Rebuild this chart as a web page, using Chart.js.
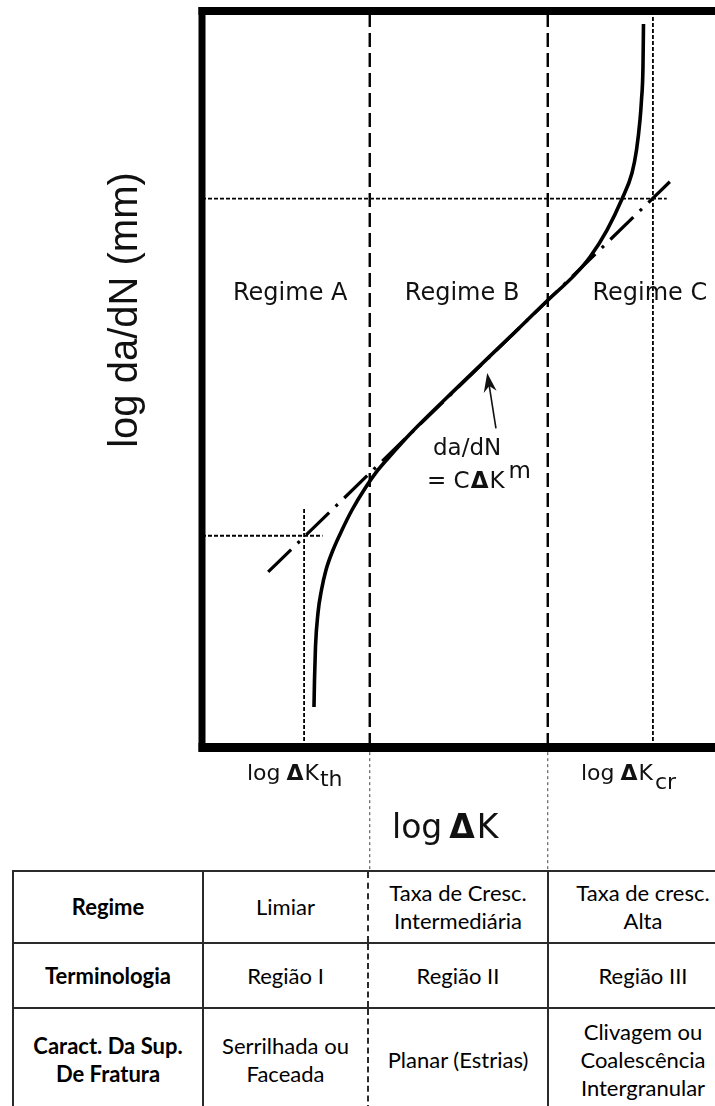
<!DOCTYPE html>
<html>
<head>
<meta charset="utf-8">
<script src="https://cdn.jsdelivr.net/npm/chart.js@4.4.1/dist/chart.umd.min.js"></script>
<style>
  html, body { margin: 0; padding: 0; background: #fff; }
  body { position: relative; width: 715px; height: 1106px; overflow: hidden; }
  #plot { position: absolute; left: 0; top: 0; z-index: 2; pointer-events: none; }
  table.regimes {
    position: absolute; left: 12px; top: 870px; z-index: 1;
    border-collapse: collapse; table-layout: fixed; width: 725px;
    font-family: Lato, "Open Sans", sans-serif; font-size: 22px; color: #000;
  }
  table.regimes td {
    border: 2px solid #2a2a2a; text-align: center; vertical-align: middle;
    line-height: 28px; padding: 0;
  }
  table.regimes td.head { font-weight: bold; font-size: 22px; }
  table.regimes td.c2 { border-right: 2px dashed #2a2a2a; }
  table.regimes td.c3 { border-left: 2px dashed #2a2a2a; }
</style>
</head>
<body>
<table class="regimes">
  <colgroup><col style="width:190px"><col style="width:165px"><col style="width:180px"><col style="width:190px"></colgroup>
  <tr style="height:72px">
    <td class="head">Regime</td><td class="c2">Limiar</td><td class="c3">Taxa de Cresc.<br>Intermediária</td><td>Taxa de cresc.<br>Alta</td>
  </tr>
  <tr style="height:65px">
    <td class="head">Terminologia</td><td class="c2">Região I</td><td class="c3">Região II</td><td>Região III</td>
  </tr>
  <tr style="height:104px">
    <td class="head">Caract. Da Sup.<br>De Fratura</td><td class="c2">Serrilhada ou<br>Faceada</td><td class="c3">Planar (Estrias)</td><td>Clivagem ou<br>Coalescência<br>Intergranular</td>
  </tr>
</table>
<canvas id="plot" width="715" height="1106"></canvas>
<script>
// Axis ranges (log ΔK horizontally, log da/dN vertically, arbitrary log units)
const kRange = [0, 10];
const rateRange = [0, 10];

// Crack growth curve: sigmoidal da/dN vs ΔK
const curveK    = [2.183, 2.193, 2.212, 2.261, 2.329, 2.417, 2.554, 2.729, 2.924, 3.158, 3.431, 3.70, 4.05, 5.00, 6.00, 6.74, 7.27, 7.563, 7.895, 8.187, 8.382, 8.47, 8.538, 8.567, 8.596, 8.606];
const curveRate = [0.543, 0.910, 1.359, 1.821, 2.133, 2.405, 2.677, 2.948, 3.220, 3.492, 3.764, 3.98, 4.25, 4.90, 5.57, 6.07, 6.418, 6.658, 7.024, 7.446, 7.799, 8.111, 8.519, 8.791, 9.239, 9.823];

// Paris law straight line (dash-dot)
const parisK    = [1.29, 9.12];
const parisRate = [2.38, 7.68];

// Regime boundaries A|B and B|C
const regimeBoundaryK = [3.27, 6.74];

// Threshold and critical ΔK guides
const thresholdK = 1.99, thresholdRate = 2.87;
const thresholdGuideTop = 3.25, thresholdGuideEnd = 2.35;
const criticalK = 8.79, criticalRate = 7.45;
const criticalGuideEnd = 9.06;

// Extension of the regime boundaries down to the table
const boundaryExtension = [-0.07, -1.68];

// Regime labels and their positions
const regimeLabels = ['Regime A', 'Regime B', 'Regime C'];
const regimeLabelK = [1.72, 5.07, 8.73];
const regimeLabelRate = 6.08;

// Pointer to the Paris-law segment
const arrowTail = [5.73, 4.33];
const arrowTip  = [5.56, 5.08];

const pts = (xs, ys) => xs.map((x, i) => ({ x, y: ys[i] }));

const datasets = [
  { data: pts(curveK, curveRate), borderColor: '#000', borderWidth: 3.6, cubicInterpolationMode: 'monotone' },
  { data: pts(parisK, parisRate), borderColor: '#000', borderWidth: 3.2, borderDash: [32, 9, 3, 9] },
];
regimeBoundaryK.forEach(k => {
  datasets.push({ data: pts([k, k], rateRange), borderColor: '#000', borderWidth: 2.4, borderDash: [14, 6] });
  datasets.push({ data: pts([k, k], boundaryExtension), borderColor: '#444', borderWidth: 1, borderDash: [3, 3], clip: false });
});
datasets.push(
  { data: pts([thresholdK, thresholdK], [rateRange[0], thresholdGuideTop]), borderColor: '#000', borderWidth: 1.8, borderDash: [4, 2] },
  { data: pts([kRange[0], thresholdGuideEnd], [thresholdRate, thresholdRate]), borderColor: '#000', borderWidth: 1.8, borderDash: [4, 2] },
  { data: pts([criticalK, criticalK], rateRange), borderColor: '#000', borderWidth: 1.8, borderDash: [4, 2] },
  { data: pts([kRange[0], criticalGuideEnd], [criticalRate, criticalRate]), borderColor: '#000', borderWidth: 1.8, borderDash: [4, 2] }
);
datasets.forEach(d => { d.showLine = true; d.pointRadius = 0; d.fill = false; });

const DJ = '"DejaVu Sans"';
function drawRuns(ctx, x, y, runs) {
  let cx = x;
  runs.forEach(r => {
    ctx.font = r.f;
    cx += (r.gap || 0);
    ctx.fillText(r.t, cx, y + (r.dy || 0));
    cx += ctx.measureText(r.t).width;
  });
}

const framePlugin = {
  id: 'frame',
  afterDatasetsDraw(chart) {
    const { ctx, chartArea: a, width } = chart;
    ctx.save();
    ctx.fillStyle = '#000';
    ctx.fillRect(a.left - 3.5, a.top - 4, 7, a.bottom - a.top + 8.5);
    ctx.fillRect(a.left - 3.5, a.top - 4, width, 8);
    ctx.fillRect(a.left - 3.5, a.bottom - 4, width, 9);
    ctx.restore();
  },
  afterDraw(chart) {
    const { ctx } = chart;
    const xs = chart.scales.x, ys = chart.scales.y;
    ctx.save();
    ctx.fillStyle = '#111';
    ctx.textBaseline = 'alphabetic';

    // regime labels
    ctx.font = '24px ' + DJ;
    ctx.textAlign = 'center';
    regimeLabels.forEach((t, i) => ctx.fillText(t, xs.getPixelForValue(regimeLabelK[i]), ys.getPixelForValue(regimeLabelRate)));

    // vertical axis title
    ctx.save();
    ctx.translate(137, 310);
    ctx.rotate(-Math.PI / 2);
    ctx.font = '40px "Liberation Sans"';
    ctx.fillText('log da/dN (mm)', 0, 0);
    ctx.restore();

    ctx.textAlign = 'left';
    // threshold and critical ΔK labels
    drawRuns(ctx, 247, 780, [
      { t: 'log', f: '22px ' + DJ },
      { t: 'Δ', f: 'bold 22px ' + DJ, gap: 6 },
      { t: 'K', f: '22px ' + DJ, gap: 1 },
      { t: 'th', f: '22px ' + DJ, gap: 1, dy: 6 }
    ]);
    drawRuns(ctx, 581, 780, [
      { t: 'log', f: '22px ' + DJ },
      { t: 'Δ', f: 'bold 22px ' + DJ, gap: 6 },
      { t: 'K', f: '22px ' + DJ, gap: 1 },
      { t: 'cr', f: '22px ' + DJ, gap: 2, dy: 9 }
    ]);
    // horizontal axis title
    drawRuns(ctx, 392, 838, [
      { t: 'log', f: '33px ' + DJ },
      { t: 'Δ', f: 'bold 33px ' + DJ, gap: 7 },
      { t: 'K', f: '33px ' + DJ, gap: 2 }
    ]);

    // Paris law annotation
    drawRuns(ctx, 433, 455, [{ t: 'da/dN', f: '23px ' + DJ }]);
    drawRuns(ctx, 427, 488, [
      { t: '= C', f: '23px ' + DJ },
      { t: 'Δ', f: 'bold 23px ' + DJ, gap: 1 },
      { t: 'K', f: '23px ' + DJ, gap: 1 },
      { t: 'm', f: '23px ' + DJ, gap: 4, dy: -10 }
    ]);

    // arrow
    const tx = xs.getPixelForValue(arrowTail[0]), ty = ys.getPixelForValue(arrowTail[1]);
    const hx = xs.getPixelForValue(arrowTip[0]), hy = ys.getPixelForValue(arrowTip[1]);
    const ang = Math.atan2(hy - ty, hx - tx);
    const L = 19, W = 6.5, N = 13;
    ctx.strokeStyle = '#111';
    ctx.lineWidth = 1.6;
    ctx.beginPath();
    ctx.moveTo(tx, ty);
    ctx.lineTo(hx - Math.cos(ang) * N, hy - Math.sin(ang) * N);
    ctx.stroke();
    ctx.beginPath();
    ctx.moveTo(hx, hy);
    ctx.lineTo(hx - Math.cos(ang) * L + Math.sin(ang) * W, hy - Math.sin(ang) * L - Math.cos(ang) * W);
    ctx.lineTo(hx - Math.cos(ang) * N, hy - Math.sin(ang) * N);
    ctx.lineTo(hx - Math.cos(ang) * L - Math.sin(ang) * W, hy - Math.sin(ang) * L + Math.cos(ang) * W);
    ctx.closePath();
    ctx.fill();
    ctx.restore();
  }
};

new Chart(document.getElementById('plot'), {
  type: 'scatter',
  data: { datasets },
  options: {
    responsive: false,
    animation: false,
    devicePixelRatio: 1,
    layout: { padding: { left: 202, top: 11, right: 0, bottom: 359 } },
    plugins: { legend: { display: false }, tooltip: { enabled: false } },
    scales: {
      x: { type: 'linear', min: kRange[0], max: kRange[1], display: false },
      y: { type: 'linear', min: rateRange[0], max: rateRange[1], display: false }
    }
  },
  plugins: [framePlugin]
});
</script>
</body>
</html>
